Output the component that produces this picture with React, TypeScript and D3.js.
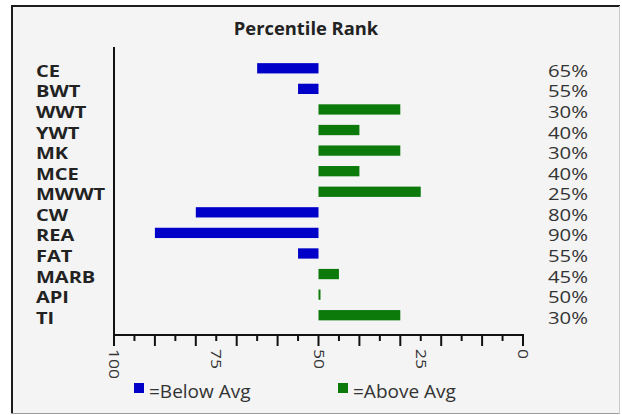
import React from 'react';
import * as d3 from 'd3';

// categories top to bottom, percentile per row
const categories = ['CE', 'BWT', 'WWT', 'YWT', 'MK', 'MCE', 'MWWT', 'CW', 'REA', 'FAT', 'MARB', 'API', 'TI'];
const percentiles = [65, 55, 30, 40, 30, 40, 25, 80, 90, 55, 45, 50, 30];
const tickLabels = [100, 75, 50, 25, 0];
const legendItems = ['=Below Avg', '=Above Avg'];

const W = 622;
const H = 415;
const AVG = 50;
const BLUE = '#0000c8';
const GREEN = '#0b7a0b';
const FONT = '"Open Sans", "DejaVu Sans", sans-serif';

const App: React.FC = () => {
    const x = d3.scaleLinear().domain([100, 0]).range([114, 523]);
    const y = d3.scaleBand<string>()
        .domain(categories)
        .range([58, 325.5])
        .paddingInner(0.5)
        .paddingOuter(0.25);
    const axisY = 335;
    const ticks = x.ticks(20);

    const rows = categories.map((c, i) => ({ name: c, value: percentiles[i] }));

    return (
        <svg width={W} height={H} style={{ position: 'absolute', left: 0, top: 0, background: '#fff' }}>
            {/* frame */}
            <rect x={11} y={6} width={609} height={408} fill="#f4f4f4" />
            <line x1={11} x2={620} y1={6} y2={6} stroke="#1c1c1c" strokeWidth={2} />
            <line x1={12} x2={12} y1={6} y2={414} stroke="#1c1c1c" strokeWidth={2} />
            <line x1={11} x2={620} y1={413.5} y2={413.5} stroke="#9a9a9a" strokeWidth={1} />
            <line x1={619.5} x2={619.5} y1={6} y2={414} stroke="#c8c8c8" strokeWidth={1} />

            {/* title */}
            <text transform="translate(306,35) scale(1.08,1)" textAnchor="middle"
                fontFamily={FONT} fontWeight="bold" fontSize={17} fill="#222">
                Percentile Rank
            </text>

            {/* bars */}
            {rows.map(d => {
                const x0 = Math.min(x(d.value), x(AVG));
                const w = Math.max(Math.abs(x(d.value) - x(AVG)), 2);
                return (
                    <rect key={d.name} x={x0} y={y(d.name)!} width={w} height={y.bandwidth()}
                        fill={d.value > AVG ? BLUE : GREEN} />
                );
            })}

            {/* row labels */}
            {rows.map(d => {
                const cy = y(d.name)! + y.bandwidth() / 2;
                return (
                    <g key={'l' + d.name}>
                        <text transform={`translate(36,${cy + 8.5}) scale(1.25,1)`}
                            fontFamily={FONT} fontWeight="bold" fontSize={16} fill="#222">
                            {d.name}
                        </text>
                        <text transform={`translate(588,${cy + 8.5}) scale(1.27,1)`} textAnchor="end"
                            fontFamily={FONT} fontSize={16} fill="#333">
                            {d.value + '%'}
                        </text>
                    </g>
                );
            })}

            {/* axes */}
            <line x1={114} x2={114} y1={47} y2={axisY} stroke="#111" strokeWidth={2} />
            <line x1={113} x2={x(0) + 1} y1={axisY} y2={axisY} stroke="#111" strokeWidth={2} />
            {ticks.map(t => (
                <line key={'t' + t} x1={x(t)} x2={x(t)} y1={axisY}
                    y2={axisY + (t % 10 === 0 ? 11 : 6)} stroke="#111" strokeWidth={2} />
            ))}
            {tickLabels.map(t => (
                <text key={'tl' + t} transform={`translate(${x(t) - 5},${axisY + 14}) rotate(90) scale(1.25,1)`}
                    fontFamily={FONT} fontSize={14} fill="#333">
                    {t}
                </text>
            ))}

            {/* legend */}
            {legendItems.map((label, i) => {
                const lx = i === 0 ? 134 : 338;
                return (
                    <g key={label}>
                        <rect x={lx} y={383} width={10} height={10} fill={i === 0 ? BLUE : GREEN} />
                        <text x={lx + 15} y={398} fontFamily={FONT} fontSize={19} fill="#333">
                            {label}
                        </text>
                    </g>
                );
            })}
        </svg>
    );
};

export default App;
